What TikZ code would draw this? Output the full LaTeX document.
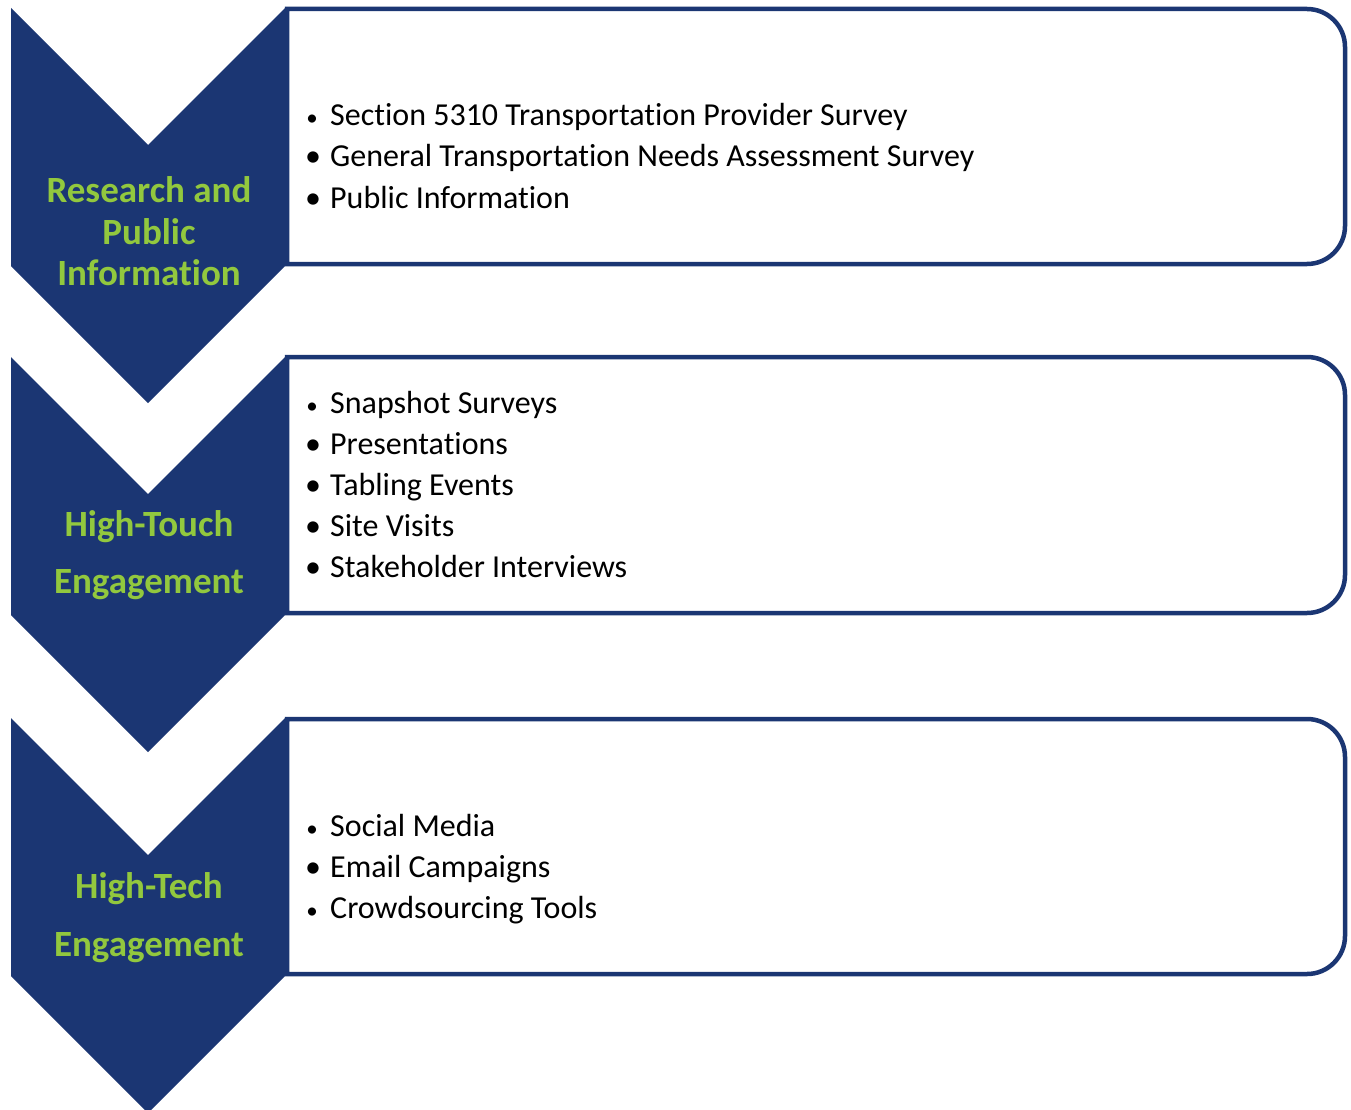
\documentclass[tikz,border=0pt]{standalone}
\usepackage{fontspec}
\setmainfont{Carlito}[Ligatures=NoCommon]
\definecolor{navy}{RGB}{27,54,115}
\definecolor{leaf}{RGB}{146,200,62}
\tikzset{
  chev/.style={fill=navy},
  panel/.style={draw=navy, line width=4.5pt, fill=white},
  label/.style={text=leaf, font=\fontsize{37}{41}\selectfont\bfseries, anchor=base, inner sep=0pt},
  item/.style={font=\fontsize{32}{41}\selectfont, anchor=base west, inner sep=0pt},
  bigdot/.style={font=\fontsize{32}{41}\selectfont, anchor=base, inner sep=0pt},
  smalldot/.style={font=\fontsize{23}{41}\selectfont, anchor=base, inner sep=0pt}
}
% chevron: top edge y0, left x 11, right x 285, body height 258, notch 137
\newcommand{\chevronat}[1]{%
  \fill[chev] (11,#1) -- (148,#1+137) -- (285,#1) -- (285,#1+258)
    -- (148,#1+395) -- (11,#1+258) -- cycle;}
% panel with rounded right corners: top y, bottom y
\newcommand{\panelat}[2]{%
  \draw[panel] (287,#1) -- (1307,#1) arc[start angle=-90, end angle=0, radius=38]
    -- (1345,#2-38) arc[start angle=0, end angle=90, radius=38] -- (287,#2) -- cycle;}
\begin{document}
\begin{tikzpicture}[x=1pt,y=-1pt]
\useasboundingbox (0,0) rectangle (1351,1110);
\fill[white] (0,0) rectangle (1351,1110);

% stage 1
\panelat{9}{264}
\chevronat{8}
\node[label] (l1a) at (149,203) {Research and};
\node[label] (l1b) at (149,244) {Public};
\node[label] (l1c) at (149,285) {Information};
\node[smalldot] (b1a) at (312,126) {•};
\node[bigdot] (b1b) at (313,167) {•};
\node[bigdot] (b1c) at (313,208) {•};
\node[item] (t1a) at (330,126) {Section 5310 Transportation Provider Survey};
\node[item] (t1b) at (330,167) {General Transportation Needs Assessment Survey};
\node[item] (t1c) at (330,208) {Public Information};

% stage 2
\panelat{357}{613}
\chevronat{357}
\node[label] (l2a) at (149,536) {High-Touch};
\node[label] (l2b) at (149,593) {Engagement};
\node[smalldot] (b2a) at (312,413) {•};
\node[bigdot] (b2b) at (313,454) {•};
\node[bigdot] (b2c) at (313,495) {•};
\node[bigdot] (b2d) at (313,536) {•};
\node[bigdot] (b2e) at (313,577) {•};
\node[item] (t2a) at (330,413) {Snapshot Surveys};
\node[item] (t2b) at (330,454) {Presentations};
\node[item] (t2c) at (330,495) {Tabling Events};
\node[item] (t2d) at (330,536) {Site Visits};
\node[item] (t2e) at (330,577) {Stakeholder Interviews};

% stage 3
\panelat{719}{974}
\chevronat{718}
\node[label] (l3a) at (149,898) {High-Tech};
\node[label] (l3b) at (149,956) {Engagement};
\node[smalldot] (b3a) at (312,836) {•};
\node[bigdot] (b3b) at (313,877) {•};
\node[smalldot] (b3c) at (312,918.5) {•};
\node[item] (t3a) at (330,836) {Social Media};
\node[item] (t3b) at (330,877) {Email Campaigns};
\node[item] (t3c) at (330,918.5) {Crowdsourcing Tools};
\end{tikzpicture}
\end{document}
